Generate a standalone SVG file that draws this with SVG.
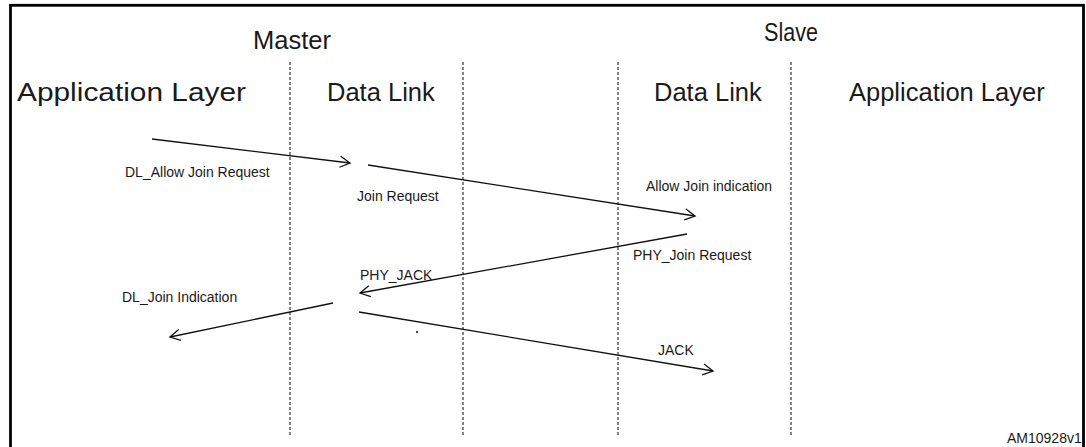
<svg xmlns="http://www.w3.org/2000/svg" width="1086" height="447" viewBox="0 0 1086 447">
<style>
.t{font-family:"Liberation Sans",Arial,sans-serif;fill:#1a1a1a}
.big{font-size:25.5px}
.hd{font-size:25px}
.sm{font-size:14px}
.life{stroke:#333;stroke-width:1.2;stroke-dasharray:3 2;fill:none}
.msg{stroke:#111;stroke-width:1.3;fill:none;marker-end:url(#arr)}
</style>
<defs>
<marker id="arr" markerWidth="14" markerHeight="14" refX="12" refY="7" orient="auto" markerUnits="userSpaceOnUse">
<polyline points="2,1.5 12,7 2,12.5" fill="none" stroke="#111" stroke-width="1.3"/>
</marker>
</defs>
<rect x="0" y="0" width="1086" height="447" fill="#fff"/>
<rect x="10.5" y="5.3" width="1073" height="460" fill="none" stroke="#000" stroke-width="2.8"/>
<g id="lifelines">
<line class="life" x1="290" y1="62" x2="290" y2="437"/>
<line class="life" x1="463" y1="62" x2="463" y2="437"/>
<line class="life" x1="618" y1="62" x2="618" y2="437"/>
<line class="life" x1="791" y1="62" x2="791" y2="437"/>
</g>
<g id="master-label"><text class="t hd" x="292" y="49" text-anchor="middle" textLength="78" lengthAdjust="spacingAndGlyphs">Master</text></g>
<g id="slave-label"><text class="t hd" x="791" y="41" text-anchor="middle" textLength="54" lengthAdjust="spacingAndGlyphs">Slave</text></g>
<g id="master-app"><text class="t big" x="17" y="101" textLength="229" lengthAdjust="spacingAndGlyphs">Application Layer</text></g>
<g id="master-dl"><text class="t big" x="327" y="101">Data Link</text></g>
<g id="slave-dl"><text class="t big" x="654" y="101">Data Link</text></g>
<g id="slave-app"><text class="t big" x="849" y="101">Application Layer</text></g>
<g id="connectors">
<line class="msg" x1="152" y1="139" x2="350" y2="163"/>
<line class="msg" x1="368" y1="165" x2="695" y2="216"/>
<line class="msg" x1="687" y1="234" x2="360" y2="293"/>
<line class="msg" x1="333" y1="303" x2="170" y2="337"/>
<line class="msg" x1="359" y1="312" x2="713" y2="371"/>
</g>
<g id="labels">
<text class="t sm" x="125" y="177">DL_Allow Join Request</text>
<text class="t sm" x="357" y="201">Join Request</text>
<text class="t sm" x="646" y="191">Allow Join indication</text>
<text class="t sm" x="633" y="260">PHY_Join Request</text>
<text class="t sm" x="360" y="280">PHY_JACK</text>
<text class="t sm" x="122" y="302">DL_Join Indication</text>
<text class="t sm" x="658" y="355">JACK</text>
<text class="t sm" x="1007" y="443">AM10928v1</text>
</g>
<circle cx="417" cy="332" r="1" fill="#111"/>
</svg>
